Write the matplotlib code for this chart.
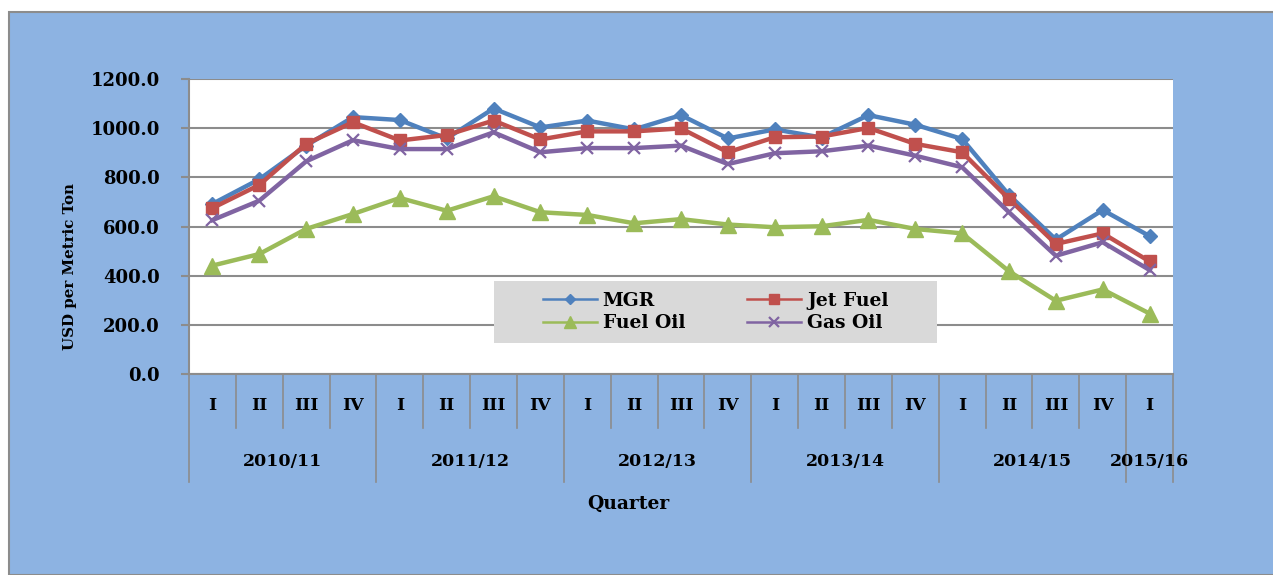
import matplotlib
matplotlib.use("Agg")
import matplotlib.pyplot as plt
from matplotlib.lines import Line2D
from matplotlib.patches import Rectangle
import matplotlib.transforms as mtransforms

plt.rcParams['font.family'] = ['DejaVu Serif']
plt.rcParams['font.weight'] = 'bold'

quarters = ["I", "II", "III", "IV"] * 5 + ["I"]
years = ["2010/11", "2011/12", "2012/13", "2013/14", "2014/15", "2015/16"]
year_sizes = [4, 4, 4, 4, 4, 1]

mgr = [692, 792, 929, 1045, 1033, 958, 1080, 1003, 1031, 995, 1053, 958,
       995, 962, 1053, 1014, 956, 728, 547, 667, 561]
jet_fuel = [675, 769, 936, 1024, 950, 972, 1031, 954, 987, 987, 999, 902,
            963, 966, 1001, 936, 902, 712, 529, 572, 458]
fuel_oil = [441, 488, 590, 651, 716, 664, 723, 658, 647, 613, 630, 608,
            597, 601, 627, 590, 572, 418, 298, 344, 246]
gas_oil = [626, 705, 865, 951, 915, 915, 983, 902, 919, 919, 929, 854,
           898, 906, 929, 888, 841, 658, 481, 536, 423]

series = [
    ("MGR", mgr, "#4F81BD", "D", 7, 1.0),
    ("Jet Fuel", jet_fuel, "#C0504D", "s", 8.5, 1.0),
    ("Fuel Oil", fuel_oil, "#9BBB59", "^", 11, 1.0),
    ("Gas Oil", gas_oil, "#8064A2", "x", 9, 1.6),
]

W, H = 1273, 575
fig = plt.figure(figsize=(W / 100, H / 100), dpi=100)
fig.patch.set_facecolor("white")

# chart area background
bg = Rectangle((9 / W, 0), 1 - 9 / W + 0.01, 1 - 12 / H, transform=fig.transFigure,
               facecolor="#8DB3E2", edgecolor="#8C8C8C", linewidth=1.5, zorder=-5)
fig.patches.append(bg)

left, right, top, bottom = 189, 1173, 79, 374
ax = fig.add_axes([left / W, 1 - bottom / H, (right - left) / W, (bottom - top) / H])
ax.set_zorder(2)
ax.set_facecolor("white")

n = len(quarters)
xs = [i + 0.5 for i in range(n)]
for name, vals, col, mk, ms, mew in series:
    ax.plot(xs, vals, color=col, linewidth=3.2, marker=mk, markersize=ms,
            markeredgewidth=mew, markerfacecolor=col, markeredgecolor=col,
            clip_on=False, zorder=3)

ax.set_xlim(0, n)
ax.set_ylim(0, 1200)
ax.set_yticks(range(0, 1201, 200))
ax.set_yticklabels([f"{v:.1f}" for v in range(0, 1201, 200)], fontsize=13, fontweight="bold")
ax.yaxis.grid(True, color="#8C8C8C", linewidth=1.5)
ax.set_axisbelow(True)
ax.tick_params(axis="y", direction="out", length=6, width=1.5, color="#8C8C8C", pad=15)
ax.set_xticks([])
for s in ["top", "right"]:
    ax.spines[s].set_visible(False)
for s in ["left", "bottom"]:
    ax.spines[s].set_color("#8C8C8C")
    ax.spines[s].set_linewidth(1.5)

# multi-level category axis
trans = mtransforms.blended_transform_factory(ax.transData, ax.transAxes)
short_y = (bottom - 428) / (bottom - top)
long_y = (bottom - 482) / (bottom - top)
q_y = (bottom - 406) / (bottom - top)
yr_y = (bottom - 461) / (bottom - top)
boundaries = [0]
for s in year_sizes:
    boundaries.append(boundaries[-1] + s)
for i in range(n + 1):
    y2 = long_y if i in boundaries else short_y
    ax.plot([i, i], [0, y2], transform=trans, color="#8C8C8C", linewidth=1.2, clip_on=False)
for i, q in enumerate(quarters):
    ax.text(i + 0.5, q_y, q, transform=trans, ha="center", va="center",
            fontsize=12.5, fontweight="bold")
for j, yr in enumerate(years):
    c = (boundaries[j] + boundaries[j + 1]) / 2
    ax.text(c, yr_y, yr, transform=trans, ha="center", va="center",
            fontsize=12.5, fontweight="bold")

fig.text(628 / W, 1 - 504 / H, "Quarter", ha="center", va="center",
         fontsize=13.5, fontweight="bold")
fig.text(70 / W, 1 - 266 / H, "USD per Metric Ton", ha="center", va="center",
         rotation=90, fontsize=10.8, fontweight="bold")

# legend
lx0, lx1, ly0, ly1 = 494, 937, 281, 343
ax.add_patch(Rectangle(((lx0 - left) / (right - left), (bottom - ly1) / (bottom - top)),
                       (lx1 - lx0) / (right - left), (ly1 - ly0) / (bottom - top),
                       transform=ax.transAxes, facecolor="#D9D9D9", edgecolor="none",
                       zorder=4, clip_on=False))
handles = [Line2D([0], [0], color=col, linewidth=1.8, marker=mk,
                  markersize=ms * 0.8, markeredgewidth=mew, markerfacecolor=col,
                  markeredgecolor=col)
           for name, vals, col, mk, ms, mew in series]
labels = [s[0] for s in series]
order = [0, 2, 1, 3]
leg = ax.legend([handles[i] for i in order], [labels[i] for i in order], ncol=2,
                loc="center",
                bbox_to_anchor=(((lx0 + lx1) / 2 - left) / (right - left),
                                (bottom - (ly0 + ly1) / 2) / (bottom - top)),
                frameon=False, prop={"weight": "bold", "size": 13.5},
                handlelength=2.9, handletextpad=0.3, columnspacing=3.3,
                labelspacing=0.25)
leg.set_zorder(5)

fig.savefig("out.png", dpi=100, facecolor="white")
